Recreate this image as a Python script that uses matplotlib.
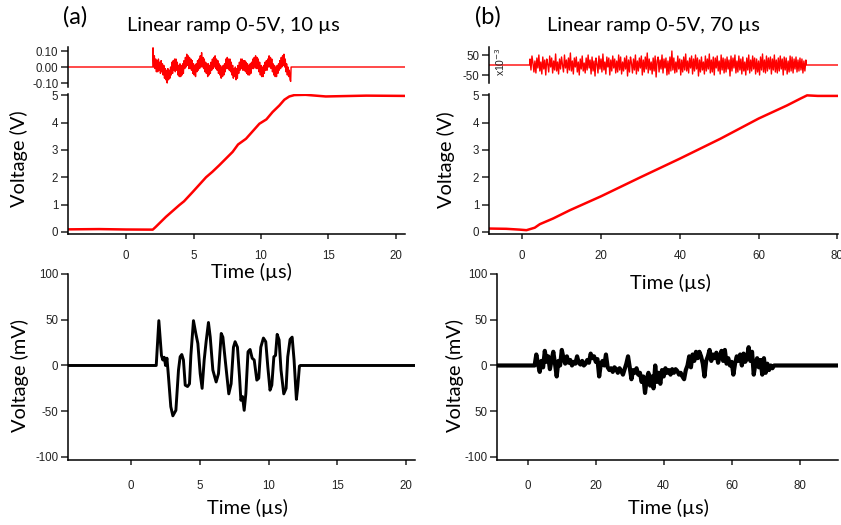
import numpy as np
import matplotlib
matplotlib.use("Agg")
import matplotlib.pyplot as plt

W, H = 841, 525

# ---------------- data ----------------
# (a) ramp, 10 us
ramp_a_t = [-4.3, -2.0, 0.0, 1.98, 2.2, 2.96, 3.95, 4.3, 4.94, 5.93, 6.4, 6.91, 7.9, 8.3, 8.89,
            9.88, 10.4, 10.86, 11.36, 11.73, 12.1, 12.47, 13.3, 14.8, 17.8, 20.67]
ramp_a_v = [0.09, 0.10, 0.085, 0.08, 0.18, 0.55, 0.98, 1.12, 1.46, 2.0, 2.2, 2.44, 2.93, 3.2, 3.41,
            3.96, 4.12, 4.39, 4.63, 4.84, 4.96, 5.01, 5.02, 4.96, 4.99, 4.98]

# (a) residual (V), sampled every 0.05 us from 2.0 us
res_a_start = 2.0
res_a_step = 0.05
res_a_vals = [0.12, 0.00, 0.07, -0.01, 0.05, -0.03, 0.04, -0.03, 0.05, -0.02,
              0.03, -0.04, 0.04, -0.03, 0.02, -0.05, 0.01, -0.07, -0.01, -0.08,
              -0.02, -0.10, -0.01, -0.08, -0.02, -0.07, 0.00, -0.05, 0.03, -0.04,
              0.04, -0.02, 0.05, -0.03, 0.05, -0.02, 0.03, -0.05, 0.01, -0.06,
              0.02, -0.06, 0.01, -0.05, 0.02, -0.04, 0.04, -0.01, 0.06, 0.00,
              0.08, 0.01, 0.07, -0.01, 0.06, -0.01, 0.05, -0.02, 0.04, -0.04,
              0.02, -0.05, 0.01, -0.06, 0.02, -0.03, 0.04, -0.02, 0.05, -0.01,
              0.07, 0.00, 0.09, 0.00, 0.06, -0.01, 0.05, -0.03, 0.03, -0.04,
              0.02, -0.06, 0.02, -0.05, 0.01, -0.04, 0.03, -0.02, 0.05, -0.01,
              0.06, 0.00, 0.07, -0.01, 0.05, -0.02, 0.04, -0.04, 0.02, -0.05,
              0.01, -0.07, 0.00, -0.06, 0.01, -0.05, 0.02, -0.03, 0.05, -0.01,
              0.06, -0.01, 0.05, -0.02, 0.05, -0.03, 0.03, -0.05, 0.01, -0.07,
              -0.01, -0.06, 0.00, -0.08, -0.01, -0.07, 0.01, -0.04, 0.03, -0.02,
              0.05, -0.01, 0.05, -0.02, 0.04, -0.02, 0.04, -0.03, 0.03, -0.04,
              0.02, -0.05, 0.01, -0.05, 0.02, -0.04, 0.03, -0.01, 0.05, -0.01,
              0.06, 0.00, 0.07, -0.01, 0.06, -0.01, 0.05, -0.03, 0.03, -0.05,
              0.01, -0.06, 0.00, -0.06, 0.01, -0.04, 0.03, -0.02, 0.04, -0.02,
              0.05, 0.00, 0.07, 0.00, 0.06, -0.01, 0.05, -0.03, 0.02, -0.05,
              0.01, -0.06, 0.00, -0.06, 0.01, -0.04, 0.02, -0.02, 0.04, -0.01,
              0.06, 0.00, 0.07, 0.01, 0.08, 0.00, 0.05, -0.03, 0.02, -0.05,
              0.00, -0.06, -0.02, -0.08, -0.09]

# (a) acoustic signal (mV)
sig_a_t = [-4.6, 1.82, 2.01, 2.2, 2.3, 2.4, 2.5, 2.6, 2.7, 2.88, 3.03, 3.25, 3.44,
           3.56, 3.68, 3.8, 3.93, 4.1, 4.24, 4.34, 4.53, 4.7, 4.85, 5.02, 5.16, 5.31,
           5.45, 5.62, 5.75, 5.94, 6.18, 6.35, 6.55, 6.67, 6.84, 7.1, 7.27, 7.44,
           7.56, 7.73, 7.88, 7.98, 8.1, 8.22, 8.34, 8.5, 8.65, 8.8, 8.95, 9.14, 9.28,
           9.43, 9.62, 9.79, 9.94, 10.1, 10.23, 10.38, 10.5, 10.62, 10.76, 10.9,
           11.1, 11.27, 11.39, 11.56, 11.71, 11.85, 12.02, 12.12, 12.24, 12.3, 20.65]
sig_a_v = [0, 0, 49, 11, 6, 9, 0, 8, -10, -45, -55, -49, -5,
           9.5, 12, 6, -21.5, -23, -20, 11, 49, 35, 24, -9, -25, 6,
           26, 47, 31, -5, -18, -9, 35, 31, 6, -31, -20, 20,
           26, 20, -12, -38, -34, -49, -31, 15, 17.5, 8, 6, -16, -14,
           20, 30, 26, -1.5, -27, -21.5, 9.5, 11, 34, 28, -5,
           -31, -25, 9.5, 28.5, 31, 6, -37, -23, -0.7, 0, 0]

# (b) ramp, 70 us
ramp_b_t = [-8.4, -4.0, -0.6, 1.1, 3.2, 4.5, 7.9, 12.1, 20.0, 29.9, 40.0, 50.3,
            60.0, 67.2, 70.6, 72.3, 75.0, 80.15]
ramp_b_v = [0.12, 0.11, 0.08, 0.06, 0.15, 0.28, 0.49, 0.79, 1.3, 1.99, 2.68, 3.41,
            4.15, 4.63, 4.88, 5.0, 4.98, 4.98]

# (b) residual (x1e-3 V), sampled every 0.25 us from 2.0 us
res_b_start = 2.0
res_b_step = 0.25
res_b_vals = [30, -25, 45, 10, -35, 20, -40, 35, -15, 50,
              -30, 15, -45, 40, -20, 25, -50, 30, 5, -35,
              45, -10, 35, -40, 20, -25, 55, -30, 15, -45,
              30, -20, 40, 0, -35, 50, -15, 25, -40, 35,
              -25, 60, -30, 20, -45, 35, -10, 40, -35, 15,
              -50, 30, -20, 45, -30, 10, -40, 35, -25, 50,
              -15, 25, -45, 40, -30, 20, -55, 35, 5, -40,
              45, -20, 30, -35, 55, -25, 15, -45, 40, -10,
              35, -50, 25, -30, 45, -15, 30, -40, 20, -35,
              50, -25, 40, -45, 15, -30, 35, -20, 45, -55,
              25, -35, 40, 10, -40, 30, -25, 50, -45, 20,
              -30, 35, -15, 45, -50, 25, -35, 40, -20, 60,
              -40, 30, -25, 15, -45, 35, -30, 45, -60, 20,
              40, -35, 25, -20, 50, -40, 30, -15, 35, -50,
              20, -45, 40, -30, 70, -25, 35, -40, 15, -35,
              45, -20, 30, -50, 25, -35, 40, -25, 55, -30,
              20, -40, 35, -15, 45, -45, 30, -30, 50, -20,
              35, -55, 25, -35, 40, -25, 15, -45, 45, -30,
              30, -20, 55, -40, 25, -35, 40, -50, 35, -15,
              45, -30, 20, -45, 50, -25, 35, -40, 30, -35,
              40, -20, 25, -55, 45, -30, 35, -15, 50, -40,
              20, -35, 45, -25, 30, -45, 40, -30, 15, -50,
              35, -25, 50, -40, 25, -30, 45, -20, 35, -45,
              30, -35, 20, -50, 40, -25, 55, -35, 25, -40,
              45, -30, 35, -20, 40, -45, 30, -25, 50, -35,
              25, -40, 35, -30, 45, -20, 30, -50, 40, -25,
              35, -45, 20, -35, 45, -30, 40, -40, 30, -20,
              40, -35, 25, -30, 35, -25, 30, -40, 20, -30,
              25]

# (b) acoustic signal (mV), sampled every 0.5 us from 2.0 us
sig_b_start = 2.0
sig_b_step = 0.5
sig_b_vals = [0, 12, 2, -7, 5, -2, 16, 4, 10, -4,
              6, 15, 2, -12, 5, 0, 17, 8, 2, 10,
              3, 6, 0, 4, 2, 10, 3, 1, 5, 0,
              2, 6, 3, 13, 8, 10, 4, 7, -12, 2,
              5, 0, 12, -2, -5, -3, -7, -2, -4, -8,
              -3, -6, -10, -4, 2, 10, -2, -15, -5, -8,
              -3, -10, -8, -18, -12, -30, -15, -8, -22, -12,
              -25, 0, -18, -8, -20, -5, -12, -3, -8, -5,
              -10, -4, -8, -4, -6, -10, -8, -12, -15, -5,
              0, 10, -2, 12, 5, 15, 8, 15, 10, 2,
              -12, 5, 10, 17, 5, 12, 8, 14, 3, 10,
              16, 5, 17, 2, 8, 0, 4, -10, 2, 10,
              5, 12, 0, 13, 4, 8, 20, 5, 15, -10,
              2, 8, -2, 6, -10, 8, -8, 2, -5, 0,
              -3, 0]

# ticks
ramp_yticks = [0, 1, 2, 3, 4, 5]
res_a_yticks = [-0.10, 0.00, 0.10]
res_a_ylabels = ["-0.10", "0.00", "0.10"]
res_b_yticks = [-50, 50]
res_b_ylabels = ["-50", "50"]
ramp_a_xticks = [0, 5, 10, 15, 20]
ramp_b_xticks = [0, 20, 40, 60, 80]
sig_yticks = [-100, -50, 0, 50, 100]
sig_a_ylabels = ["-100", "-50", "0", "50", "100"]
sig_b_ylabels = ["-100", "50", "0", "50", "100"]
sig_a_xticks = [0, 5, 10, 15, 20]
sig_b_xticks = [0, 20, 40, 60, 80]

# ---------------- helpers ----------------
TICKFAM = ["Liberation Sans", "DejaVu Sans"]
TICKSIZE = 8.3
LABFONT = ["Lato", "DejaVu Sans"]
RED = "#ff0000"

fig = plt.figure(figsize=(W / 100, H / 100), dpi=100)


def add_ax(l, t, r, b):
    return fig.add_axes([l / W, 1 - b / H, (r - l) / W, (b - t) / H])


def style(ax, show_x=True):
    for s in ["top", "right"]:
        ax.spines[s].set_visible(False)
    ax.spines["left"].set_linewidth(1.1)
    ax.spines["bottom"].set_linewidth(1.1)
    ax.spines["bottom"].set_visible(show_x)
    ax.tick_params(axis="y", direction="out", length=5, width=1.1, pad=2,
                   labelsize=TICKSIZE, colors="#222222")
    ax.tick_params(axis="x", direction="out", length=3.5, width=1.1, pad=8,
                   labelsize=TICKSIZE, colors="#222222")
    if not show_x:
        ax.tick_params(axis="x", bottom=False, labelbottom=False)
    for lab in ax.get_xticklabels() + ax.get_yticklabels():
        lab.set_family(TICKFAM)
    ax.patch.set_alpha(0)


def ftext(x, y, s, **kw):
    return fig.text(x / W, 1 - y / H, s, ha="center", va="center", **kw)


def series(start, step, vals):
    t = start + step * np.arange(len(vals))
    return t, np.asarray(vals, dtype=float)


# ---------------- panel (a) ----------------
resA = add_ax(68, 47, 405, 87)
t, v = series(res_a_start, res_a_step, res_a_vals)
tA = np.concatenate([[-4.3, 1.99], t, [t[-1] + 0.03, 20.67]])
vA = np.concatenate([[0, 0], v, [0, 0]])
resA.plot(tA, vA, color=RED, lw=1.0)
resA.set_xlim(-4.3, 20.67)
resA.set_ylim(-0.125, 0.125)
resA.set_yticks(res_a_yticks)
resA.set_yticklabels(res_a_ylabels)
style(resA, show_x=False)

rampA = add_ax(68, 94, 405, 234)
rampA.plot(ramp_a_t, ramp_a_v, color=RED, lw=1.8)
rampA.set_xlim(-4.3, 20.67)
rampA.set_ylim(-0.08, 5.05)
rampA.set_yticks(ramp_yticks)
rampA.set_xticks(ramp_a_xticks)
style(rampA)

botA = add_ax(68, 274, 415, 460)
botA.plot(sig_a_t, sig_a_v, color="black", lw=2.1, solid_joinstyle="round")
botA.set_xlim(-4.6, 20.65)
botA.set_ylim(-103.3, 100)
botA.set_yticks(sig_yticks)
botA.set_yticklabels(sig_a_ylabels)
botA.set_xticks(sig_a_xticks)
style(botA)
botA.tick_params(axis="x", pad=11)

# ---------------- panel (b) ----------------
resB = add_ax(489, 47, 838, 83)
t, v = series(res_b_start, res_b_step, res_b_vals)
tB = np.concatenate([[-8.4, 1.99], t, [t[-1] + 0.1, 80.15]])
vB = np.concatenate([[0, 0], v, [0, 0]])
resB.plot(tB, vB, color=RED, lw=1.0)
resB.set_xlim(-8.4, 80.15)
resB.set_ylim(-90, 90)
resB.set_yticks(res_b_yticks)
resB.set_yticklabels(res_b_ylabels)
style(resB, show_x=False)

rampB = add_ax(489, 94, 838, 234)
rampB.plot(ramp_b_t, ramp_b_v, color=RED, lw=1.8)
rampB.set_xlim(-8.4, 80.15)
rampB.set_ylim(-0.08, 5.05)
rampB.set_yticks(ramp_yticks)
rampB.set_xticks(ramp_b_xticks)
style(rampB)

botB = add_ax(497, 274, 838, 460)
t, v = series(sig_b_start, sig_b_step, sig_b_vals)
tS = np.concatenate([[-9.07, 1.8], t, [91.3]])
vS = np.concatenate([[0, 0], v, [0]])
botB.plot(tS, vS, color="black", lw=3.0, solid_joinstyle="round")
botB.set_xlim(-9.07, 91.3)
botB.set_ylim(-103.3, 100)
botB.set_yticks(sig_yticks)
botB.set_yticklabels(sig_b_ylabels)
botB.set_xticks(sig_b_xticks)
style(botB)
botB.tick_params(axis="x", pad=11)

# ---------------- text ----------------
TS = 14.4
ftext(75, 17, "(a)", family=LABFONT, size=17)
ftext(233, 25, "Linear ramp 0-5V, 10 µs", family=LABFONT, size=TS)
ftext(488, 17, "(b)", family=LABFONT, size=17)
ftext(653, 25, "Linear ramp 0-5V, 70 µs", family=LABFONT, size=TS)

ftext(19, 159, "Voltage (V)", family=LABFONT, size=TS, rotation=90)
ftext(446, 160, "Voltage (V)", family=LABFONT, size=TS, rotation=90)
ftext(251, 272, "Time (µs)", family=LABFONT, size=TS)
ftext(670, 283, "Time (µs)", family=LABFONT, size=TS)

ftext(20, 376, "Voltage (mV)", family=LABFONT, size=TS, rotation=90)
ftext(455, 376, "Voltage (mV)", family=LABFONT, size=TS, rotation=90)
ftext(247, 508, "Time (µs)", family=LABFONT, size=TS)
ftext(668, 508, "Time (µs)", family=LABFONT, size=TS)

ftext(500, 62, r"x10$^{-3}$", family=TICKFAM, size=7.5, rotation=90,
      color="#222222")

fig.savefig("out.png", dpi=100)
